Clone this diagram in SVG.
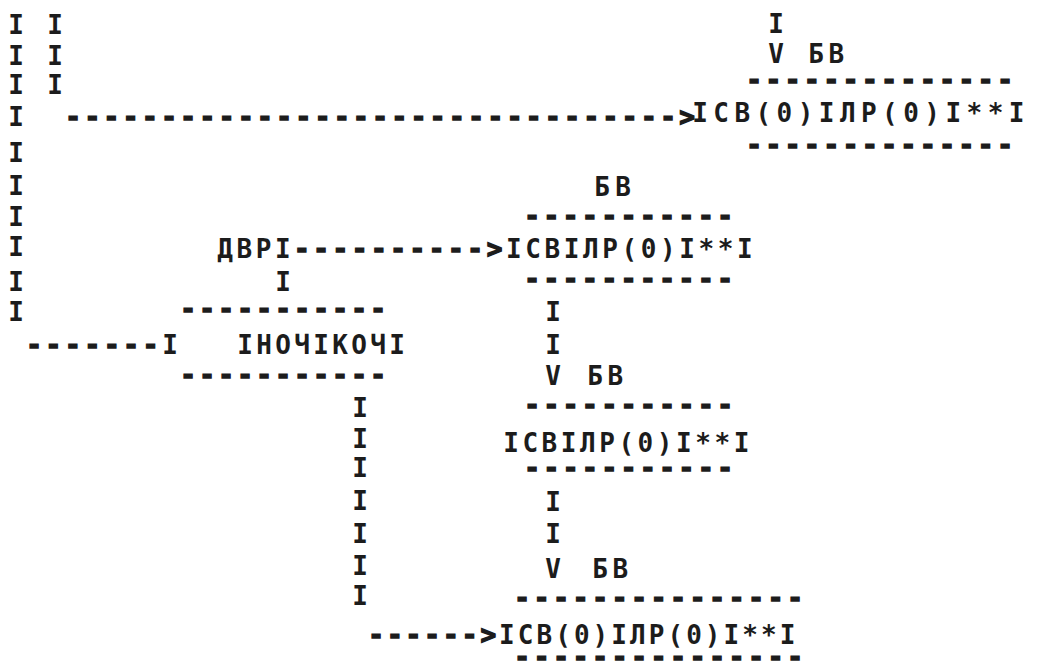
<svg xmlns="http://www.w3.org/2000/svg" width="1038" height="666" viewBox="0 0 1038 666">
<style>
text{font-family:"DejaVu Sans Mono","Liberation Mono",monospace;font-size:26px;font-weight:bold;fill:#1c1c1c;white-space:pre}
.d{stroke:#1c1c1c;stroke-width:1.4px}
.lbl{letter-spacing:4.6px}
</style>
<rect width="1038" height="666" fill="#ffffff"/>
<g id="connectors">
  <text><tspan x="8.2" y="33.5">I</tspan><tspan x="8.2" y="64.5">I</tspan><tspan x="8.2" y="93.5">I</tspan><tspan x="8.2" y="125.5">I</tspan><tspan x="8.2" y="161.5">I</tspan><tspan x="8.2" y="194.5">I</tspan><tspan x="8.2" y="225.5">I</tspan><tspan x="8.2" y="255.5">I</tspan><tspan x="8.2" y="290.5">I</tspan><tspan x="8.2" y="320.5">I</tspan></text>
  <text><tspan x="47.2" y="33.5">I</tspan><tspan x="47.2" y="64.5">I</tspan><tspan x="47.2" y="93.5">I</tspan></text>
  <text class="d" x="65.2" y="125.5" style="letter-spacing:3.54px">--------------------------------&gt;</text>
  <text x="768.2" y="32.5">I</text>
  <text x="768.2" y="62.5">V</text>
  <text x="274.9" y="257.5">I</text>
  <text class="d" x="294.1" y="257.5" style="letter-spacing:3.6px">----------&gt;</text>
  <text x="275.2" y="290.5">I</text>
  <text class="d" x="26.2" y="353.5" style="letter-spacing:3.78px">-------</text>
  <text x="162.2" y="353.5">I</text>
  <text><tspan x="545.2" y="320.5">I</tspan><tspan x="545.2" y="353.5">I</tspan><tspan x="545.2" y="384.5">V</tspan></text>
  <text><tspan x="352.2" y="416.5">I</tspan><tspan x="352.2" y="447.5">I</tspan><tspan x="352.2" y="476.5">I</tspan><tspan x="352.2" y="509.5">I</tspan><tspan x="352.2" y="542.5">I</tspan><tspan x="352.2" y="574.5">I</tspan><tspan x="352.2" y="604.5">I</tspan></text>
  <text><tspan x="545.2" y="510.5">I</tspan><tspan x="545.2" y="542.5">I</tspan><tspan x="545.2" y="577.5">V</tspan></text>
  <text class="d" x="368.2" y="643.5" style="letter-spacing:3.05px">------&gt;</text>
</g>
<g id="node-sv0-lr0-top">
  <text class="lbl" x="808.2" y="62.5">БВ</text>
  <text class="d" x="746.2" y="89.3" style="letter-spacing:3.65px">--------------</text>
  <text x="692.2" y="121.5" style="letter-spacing:5.45px">IСВ(0)IЛР(0)I**I</text>
  <text class="d" x="746.2" y="154.3" style="letter-spacing:3.65px">--------------</text>
</g>
<g id="node-svi-lr0-1">
  <text class="lbl" x="594.2" y="195.5" style="letter-spacing:5.3px">БВ</text>
  <text class="d" x="524.2" y="225.3" style="letter-spacing:3.65px">-----------</text>
  <text x="505.9" y="257.5" style="letter-spacing:3.6px">IСВIЛР(0)I**I</text>
  <text class="d" x="524.2" y="288.3" style="letter-spacing:3.65px">-----------</text>
</g>
<g id="node-dvr-nochikochi">
  <text x="217.2" y="257.5" style="letter-spacing:3.6px">ДВР</text>
  <text class="d" x="180.2" y="318.3" style="letter-spacing:3.35px">-----------</text>
  <text x="237.2" y="353.5" style="letter-spacing:3.35px">IНОЧIКОЧI</text>
  <text class="d" x="180.2" y="384.3" style="letter-spacing:3.35px">-----------</text>
</g>
<g id="node-svi-lr0-2">
  <text class="lbl" x="587.2" y="384.5">БВ</text>
  <text class="d" x="524.2" y="414.3" style="letter-spacing:3.65px">-----------</text>
  <text x="503.2" y="451.5" style="letter-spacing:3.55px">IСВIЛР(0)I**I</text>
  <text class="d" x="524.2" y="477.3" style="letter-spacing:3.65px">-----------</text>
</g>
<g id="node-sv0-lr0-bottom">
  <text class="lbl" x="592.2" y="577.5">БВ</text>
  <text class="d" x="514.2" y="607.3" style="letter-spacing:3.85px">---------------</text>
  <text x="499.1" y="643.5" style="letter-spacing:3.05px">IСВ(0)IЛР(0)I**I</text>
  <text class="d" x="514.2" y="666.3" style="letter-spacing:3.85px">---------------</text>
</g>
</svg>
